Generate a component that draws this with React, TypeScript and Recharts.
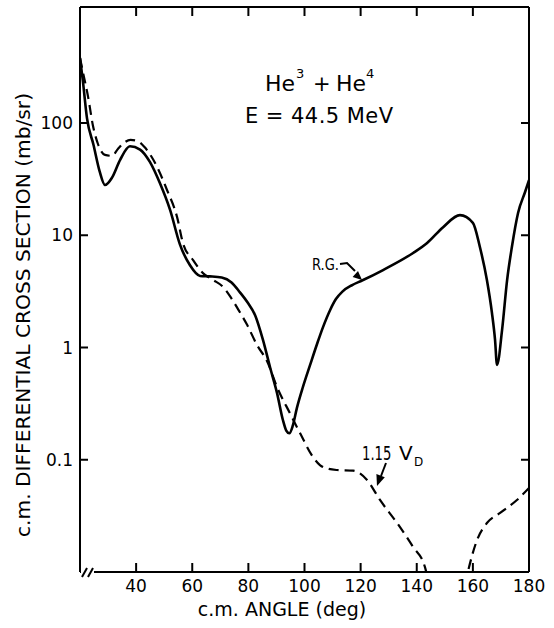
import React from 'react';
import { LineChart, Line, XAxis, YAxis } from 'recharts';

// R.G. (solid) curve: c.m. angle (deg) and cross section (mb/sr)
const rgAngle = [20, 21.0, 22.5, 24.8, 27.0, 28.9, 31.4, 34.3, 37.8, 41.4, 44.9, 48.5, 52.1, 55.6, 59.2, 62.8, 66.3, 70.5, 74.0, 77.0, 79.8, 82.4, 85.2, 87.7, 90.2, 92.3, 93.5, 94.6, 95.8, 97.3, 99.5, 102, 104.5, 106.6, 109.1, 111.2, 113.5, 117, 120.5, 128, 138.7, 143.7, 149.4, 155.4, 160, 162.5, 165, 166.8, 167.9, 168.6, 170.4, 172.2, 173.9, 176.1, 178.6, 180];
const rgSigma = [380, 240, 110, 64, 37, 28, 32.6, 47, 62, 58, 45, 29, 16.8, 8.3, 5.4, 4.34, 4.3, 4.2, 3.8, 3.1, 2.5, 1.94, 1.17, 0.67, 0.394, 0.226, 0.182, 0.172, 0.2, 0.29, 0.45, 0.7, 1.08, 1.52, 2.15, 2.7, 3.15, 3.6, 3.95, 4.9, 6.95, 8.53, 11.8, 15.1, 12.9, 7.86, 3.99, 2.03, 1.17, 0.7, 1.43, 3.99, 7.86, 15.8, 24.3, 31];

// 1.15 V_D (dashed) curve
const vdAngle = [20, 21.1, 22.9, 24.6, 26.4, 28.9, 31.4, 33.5, 35.5, 38, 40.5, 43, 45.5, 47.5, 51, 54.6, 56.7, 60.3, 63.8, 67.4, 71, 73.5, 76.3, 79.5, 83.1, 86.6, 90.2, 94.8, 98.4, 103, 105.5, 108.5, 111.6, 117.3, 122.3, 126.9, 133, 138.7, 142.9, 144.4, 150, 157.2, 158.3, 161.5, 165, 169.7, 175.7, 180];
const vdSigma = [380, 280, 170, 95, 65, 52, 51, 58.6, 66, 70.6, 69, 61, 50, 40.5, 25.3, 14.5, 8.5, 6.0, 4.6, 4.0, 3.46, 2.85, 2.2, 1.6, 1.05, 0.76, 0.445, 0.26, 0.173, 0.106, 0.0897, 0.083, 0.081, 0.08, 0.066, 0.0438, 0.0273, 0.0167, 0.0111, 0.0077, null, 0.0077, 0.0102, 0.0193, 0.0273, 0.0336, 0.0438, 0.056];

const xTicks = [40, 60, 80, 100, 120, 140, 160, 180];
const xTopTicks = [40, 60, 80, 100, 120, 140, 160];
const yTicks = [0.1, 1, 10, 100];
const yTickLabels = ['0.1', '1', '10', '100'];

const FONT = '"DejaVu Sans", "Liberation Sans", sans-serif';

const BottomTick = (props: any) => {
  const { x, y, payload } = props;
  return (
    <g>
      <line x1={x} y1={y} x2={x} y2={y - 9} stroke="#000" strokeWidth={2} />
      <text x={x} y={y + 20} textAnchor="middle" fontFamily={FONT} fontSize={17} fill="#000">
        {payload.value}
      </text>
    </g>
  );
};

const TopTick = (props: any) => {
  const { x, y } = props;
  return <line x1={x} y1={y} x2={x} y2={y + 9} stroke="#000" strokeWidth={2} />;
};

const LeftTick = (props: any) => {
  const { x, y, payload } = props;
  const i = yTicks.indexOf(payload.value);
  return (
    <g>
      <line x1={x} y1={y} x2={x + 8} y2={y} stroke="#000" strokeWidth={2} />
      <text x={x - 7} y={y + 6} textAnchor="end" fontFamily={FONT} fontSize={17} fill="#000">
        {i >= 0 ? yTickLabels[i] : payload.value}
      </text>
    </g>
  );
};

const RightTick = (props: any) => {
  const { x, y } = props;
  return <line x1={x} y1={y} x2={x - 8} y2={y} stroke="#000" strokeWidth={2} />;
};

const axisLine = { stroke: '#000', strokeWidth: 2 };

export default function App() {
  const rg = rgAngle.map((x, i) => ({ x, v: rgSigma[i] }));
  const vd = vdAngle.map((x, i) => ({ x, v: vdSigma[i] }));
  return (
    <div style={{ position: 'absolute', left: 0, top: 0, width: 554, height: 628, background: '#fff' }}>
      <LineChart width={554} height={628} margin={{ top: 6, right: 24, bottom: 55, left: 79 }}>
        <XAxis xAxisId="b" type="number" dataKey="x" domain={[20, 180]} ticks={xTicks} interval={0}
          allowDataOverflow height={1} tickSize={0} tickMargin={0} tickLine={false} axisLine={axisLine} tick={BottomTick} />
        <XAxis xAxisId="t" orientation="top" type="number" dataKey="x" domain={[20, 180]} ticks={xTopTicks} interval={0}
          allowDataOverflow height={1} tickSize={0} tickMargin={0} tickLine={false} axisLine={axisLine} tick={TopTick} />
        <YAxis yAxisId="l" type="number" scale="log" domain={[0.01, 1080]} ticks={yTicks} interval={0}
          allowDataOverflow width={1} tickSize={0} tickMargin={0} tickLine={false} axisLine={axisLine} tick={LeftTick} />
        <YAxis yAxisId="r" orientation="right" type="number" scale="log" domain={[0.01, 1080]} ticks={yTicks} interval={0}
          allowDataOverflow width={1} tickSize={0} tickMargin={0} tickLine={false} axisLine={axisLine} tick={RightTick} />
        <Line xAxisId="b" yAxisId="l" data={rg} dataKey="v" type="monotone" stroke="#000" strokeWidth={2.6}
          dot={false} activeDot={false} isAnimationActive={false} />
        <Line xAxisId="b" yAxisId="l" data={vd} dataKey="v" type="monotone" stroke="#000" strokeWidth={2.2}
          strokeDasharray="10 6" dot={false} activeDot={false} connectNulls={false} isAnimationActive={false} />
      </LineChart>
      <svg width={554} height={628} style={{ position: 'absolute', left: 0, top: 0, pointerEvents: 'none' }}>
        <rect x={81} y={568} width={13} height={8} fill="#fff" />
        <line x1={82} y1={577} x2={87} y2={568} stroke="#000" strokeWidth={2} />
        <line x1={88} y1={577} x2={93} y2={568} stroke="#000" strokeWidth={2} />

        <g fontFamily={FONT} fill="#000">
          <text y={91} fontSize={21}>
            <tspan x={265} textLength={30} lengthAdjust="spacingAndGlyphs">He</tspan>
            <tspan x={296} y={78} fontSize={13}>3</tspan>
            <tspan x={313} y={91}>+</tspan>
            <tspan x={336} textLength={30} lengthAdjust="spacingAndGlyphs">He</tspan>
            <tspan x={366} y={78} fontSize={13}>4</tspan>
          </text>
          <text x={245} y={123} fontSize={21} textLength={148} lengthAdjust="spacing">E = 44.5 MeV</text>

          <text x={312} y={270} fontSize={16} textLength={27} lengthAdjust="spacingAndGlyphs">R.G.</text>
          <path d="M340 264 L347 263 L355 271" fill="none" stroke="#000" strokeWidth={2} />
          <polygon points="362,280 352.6,277 358,271" fill="#000" />

          <text transform="translate(362,460) scale(0.66,1)" fontSize={20}>1.15</text>
          <text x={399} y={460} fontSize={20}>
            V<tspan x={414} y={466} fontSize={12}>D</tspan>
          </text>
          <line x1={386} y1={463} x2={381} y2={476} stroke="#000" strokeWidth={2} />
          <polygon points="377,486 384.8,477.3 376.4,474.1" fill="#000" />

          <text transform="translate(30,315) rotate(-90)" textAnchor="middle" fontSize={19}
            textLength={444} lengthAdjust="spacingAndGlyphs">c.m. DIFFERENTIAL CROSS SECTION (mb/sr)</text>
          <text x={282} y={616} textAnchor="middle" fontSize={19}>c.m. ANGLE (deg)</text>
        </g>
      </svg>
    </div>
  );
}
